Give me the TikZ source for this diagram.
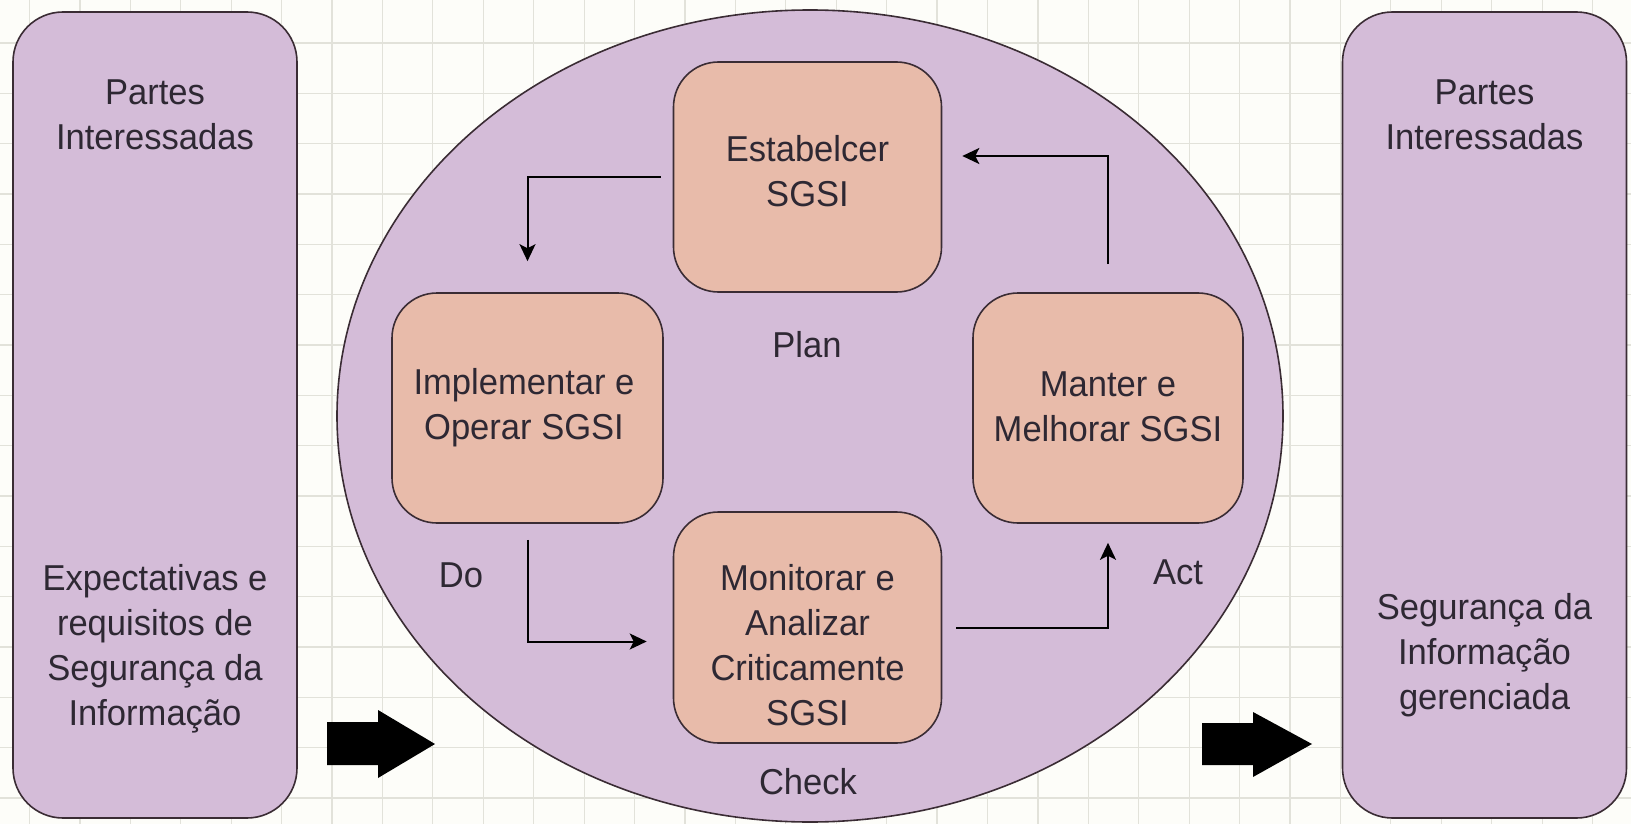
\documentclass[tikz,border=0pt]{standalone}
\usepackage{fontspec}
\setmainfont[FakeStretch=0.96]{Liberation Sans}
\usetikzlibrary{shapes.geometric,arrows.meta,calc}

\definecolor{paper}{HTML}{FDFDF9}
\definecolor{gridc}{HTML}{E2E2DA}
\definecolor{lilac}{HTML}{D4BCD8}
\definecolor{salmon}{HTML}{E8BBAA}
\definecolor{edge}{HTML}{3A2C34}
\definecolor{ink}{HTML}{2E2833}

\tikzset{
  gridline/.style={draw=gridc, line width=1.2pt},
  outerbox/.style={draw=edge, fill=lilac, line width=1.6pt, rounded corners=50pt,
                   inner sep=0pt, minimum width=284pt, minimum height=806pt},
  cyclebox/.style={draw=edge, fill=salmon, line width=1.6pt, rounded corners=45pt,
                   inner sep=0pt, minimum width=268pt, minimum height=230pt},
  txt/.style={text=ink, align=center, inner sep=0pt,
              font=\fontsize{36}{45}\selectfont},
  flow/.style={draw=black, line width=2pt,
               -{Stealth[length=17pt,width=16pt,inset=4pt]}},
  bigarrow/.style={fill=black}
}

\begin{document}
\begin{tikzpicture}[x=1pt,y=-1pt]
  % page and background grid
  \useasboundingbox (0,0) rectangle (1631,824);
  \fill[paper] (0,0) rectangle (1631,824);
  \foreach \i in {0,...,32} {
    \draw[gridline] ({29.5+50.42*\i},0) -- ({29.5+50.42*\i},824);
  }
  \foreach \j in {0,...,16} {
    \draw[gridline] (0,{-7.3+50.33*\j}) -- (1631,{-7.3+50.33*\j});
  }

  % interested parties, input and output
  \node[outerbox] (partesL) at (155,415) {};
  \node[outerbox] (partesR) at (1484.5,415) {};
  \node[txt] (partesLT) at (155,115) {Partes\\Interessadas};
  \node[txt] (partesRT) at (1484.5,115) {Partes\\Interessadas};
  \node[txt] (expect) at (155,649) {Expectativas e\\requisitos de\\Segurança da\\Informação};
  \node[txt] (gerenc) at (1484.5,655) {Segurança da\\Informação\\gerenciada};

  % the PDCA cycle
  \node[ellipse, draw=edge, fill=lilac, line width=1.6pt, inner sep=0pt,
        minimum width=946pt, minimum height=812pt] (ciclo) at (810,416) {};

  \node[cyclebox] (plan) at (807.5,177) {};
  \node[cyclebox, minimum width=271pt] (impl) at (527.5,408) {};
  \node[cyclebox, minimum width=270pt] (manter) at (1108,408) {};
  \node[cyclebox, minimum height=231pt] (monit) at (807.5,627.5) {};

  \node[txt] (planT) at (807.5,171) {Estabelcer\\SGSI};
  \node[txt] (implT) at (524,408) {Implementar e\\Operar SGSI};
  \node[txt] (manterT) at (1108,407) {Manter e\\Melhorar SGSI};
  \node[txt] (monitT) at (807.5,645) {Monitorar e\\Analizar\\Criticamente\\SGSI};

  \node[txt] (lplan) at (807,345) {Plan};
  \node[txt] (ldo) at (461,575) {Do};
  \node[txt] (lact) at (1178,572) {Act};
  \node[txt] (lcheck) at (808,782) {Check};

  % cycle connectors
  \draw[flow, shorten <=12pt, shorten >=31pt] (plan.west) -| (impl.north);
  \draw[flow, shorten <=16pt, shorten >=26pt] (impl.south) |- ($(monit.west)+(0,14)$);
  \draw[flow, shorten <=14pt, shorten >=19pt] (monit.east) -| (manter.south);
  \draw[flow, shorten <=28pt, shorten >=20pt] (manter.north) |- ($(plan.east)+(0,-21)$);

  % block arrows into and out of the cycle
  \fill[bigarrow] (327,722) -- (378,722) -- (378,710) -- (435,744) -- (378,778)
                  -- (378,765) -- (327,765) -- cycle;
  \fill[bigarrow] (1202,723) -- (1253,723) -- (1253,712) -- (1312,744) -- (1253,777)
                  -- (1253,765) -- (1202,765) -- cycle;
\end{tikzpicture}
\end{document}
